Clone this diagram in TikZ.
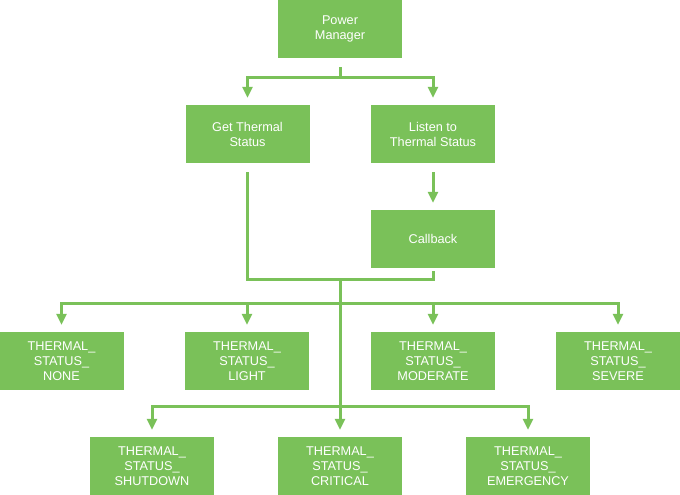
\documentclass[tikz,border=0pt]{standalone}
\usepackage{fontspec}
\setmainfont{Liberation Sans}
\usetikzlibrary{arrows.meta}
\definecolor{boxgreen}{RGB}{122,193,89}

\begin{document}
\begin{tikzpicture}[x=1pt,y=1pt,font=\fontsize{12.7}{15}\selectfont,
	box/.style={fill=boxgreen,text=white,minimum width=124pt,minimum height=58pt,align=center,inner sep=0pt},
	link/.style={draw=boxgreen,line width=3pt},
	arr/.style={link,-{Triangle[width=10pt,length=11pt]},shorten >=7pt}]

	\useasboundingbox (0,0) rectangle (680,495);

	% junction coordinates
	\coordinate (j1) at (340,417);
	\coordinate (j2) at (340,215);
	\coordinate (r1) at (340,191);
	\coordinate (r2) at (340,88);

	% top boxes
	\node[box] (pm) at (340,466) {Power\\Manager};
	\node[box] (get) at (247.5,361) {Get Thermal\\Status};
	\node[box] (listen) at (433,361) {Listen to\\Thermal Status};
	\node[box] (cb) at (433,256) {Callback};

	% status boxes
	\node[box] (none) at (61.5,134) {THERMAL\_\\STATUS\_\\NONE};
	\node[box] (light) at (247,134) {THERMAL\_\\STATUS\_\\LIGHT};
	\node[box] (moderate) at (433,134) {THERMAL\_\\STATUS\_\\MODERATE};
	\node[box] (severe) at (618,134) {THERMAL\_\\STATUS\_\\SEVERE};

	\node[box] (shutdown) at (152,29) {THERMAL\_\\STATUS\_\\SHUTDOWN};
	\node[box] (critical) at (340,29) {THERMAL\_\\STATUS\_\\CRITICAL};
	\node[box] (emergency) at (528,29) {THERMAL\_\\STATUS\_\\EMERGENCY};

	% connectors
	\draw[link] ([yshift=-9pt]pm.south) -- (j1);
	\draw[arr] (j1) -| (get.north);
	\draw[arr] (j1) -| (listen.north);
	\draw[arr] ([yshift=-9pt]listen.south) -- (cb.north);

	\draw[link] ([yshift=-9pt]get.south) |- (j2 -| cb.south) -- ([yshift=-3pt]cb.south);
	\draw[arr] (j2) -- (critical.north);

	\draw[arr] (r1) -| (none.north);
	\draw[arr] (r1) -| (light.north);
	\draw[arr] (r1) -| (moderate.north);
	\draw[arr] (r1) -| (severe.north);

	\draw[arr] (r2) -| (shutdown.north);
	\draw[arr] (r2) -| (emergency.north);
\end{tikzpicture}
\end{document}
